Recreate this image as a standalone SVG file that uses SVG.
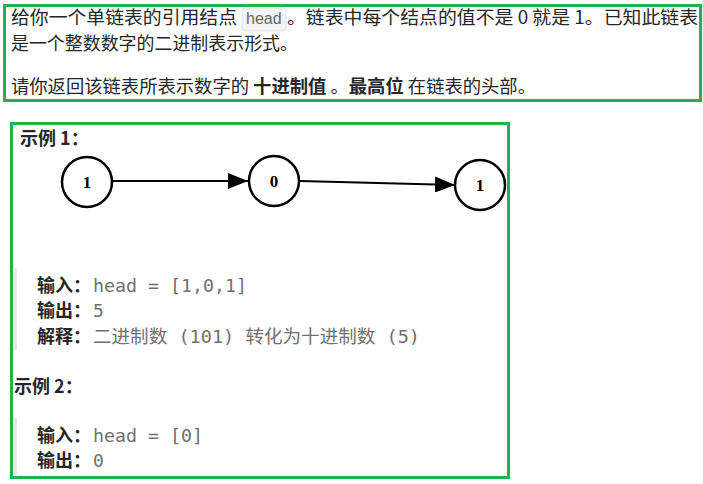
<svg xmlns="http://www.w3.org/2000/svg" width="703" height="484" viewBox="0 0 703 484">
<style>
.t{font-family:"Noto Sans CJK SC","Liberation Sans",sans-serif;font-size:18px;fill:#262626}
.b{font-weight:bold}
.m{font-family:"DejaVu Sans Mono","Noto Sans CJK SC",monospace;font-size:18px;fill:#707070}
.box{fill:none;stroke:#22b14c;stroke-width:3}
.n{fill:#fff;stroke:#000;stroke-width:2.5}
.nt{font-family:"Liberation Serif",serif;font-size:17px;font-weight:bold;text-anchor:middle}
</style>
<defs>
<marker id="a2" viewBox="0 0 20 16" markerWidth="20" markerHeight="16" refX="20" refY="8" orient="auto" markerUnits="userSpaceOnUse"><path d="M0,0L20,8L0,16z"/></marker></defs>
<rect class="box" x="4.5" y="5.5" width="696" height="95"/>
<text class="t" x="11" y="24" textLength="226" lengthAdjust="spacingAndGlyphs">给你一个单链表的引用结点</text>
<rect x="242" y="8" width="44" height="23" rx="3" fill="#f3f3f3" stroke="#e3e3e3"/>
<text x="246" y="24" style="font-family:'Liberation Sans',sans-serif;font-size:16px;fill:#666">head</text>
<text class="t" x="287" y="24" textLength="411" lengthAdjust="spacingAndGlyphs">。链表中每个结点的值不是 0 就是 1。已知此链表</text>
<text class="t" x="11" y="50" textLength="287" lengthAdjust="spacingAndGlyphs">是一个整数数字的二进制表示形式。</text>
<text class="t" x="11" y="93" textLength="525" lengthAdjust="spacingAndGlyphs">请你返回该链表所表示数字的 <tspan class="b">十进制值</tspan> 。<tspan class="b">最高位</tspan> 在链表的头部。</text>
<rect class="box" x="11.5" y="123.5" width="497" height="354"/>
<text class="t b" x="20" y="145">示例 1：</text>
<g id="connectors">
<line x1="113" y1="181" x2="248" y2="181" stroke="#000" stroke-width="2" marker-end="url(#a2)"/>
<line x1="300" y1="181" x2="455" y2="185" stroke="#000" stroke-width="2" marker-end="url(#a2)"/>
</g>
<g id="n1"><circle class="n" cx="87" cy="182" r="25"/><text class="nt" x="87" y="188">1</text></g>
<g id="n2"><circle class="n" cx="274" cy="181" r="25"/><text class="nt" x="274" y="187">0</text></g>
<g id="n3"><circle class="n" cx="480" cy="185" r="25"/><text class="nt" x="480" y="191">1</text></g>
<rect x="14" y="268" width="3" height="82" fill="#e8e8e8"/>
<text class="t b" x="37" y="292">输入：</text><text class="m" x="93" y="292" textLength="154" lengthAdjust="spacingAndGlyphs">head = [1,0,1]</text>
<text class="t b" x="37" y="317">输出：</text><text class="m" x="93" y="317">5</text>
<text class="t b" x="37" y="343">解释：</text><text class="m" x="93" y="343" textLength="327" lengthAdjust="spacingAndGlyphs">二进制数 (101) 转化为十进制数 (5)</text>
<text class="t b" x="14" y="393">示例 2：</text>
<rect x="14" y="418" width="3" height="57" fill="#e8e8e8"/>
<text class="t b" x="37" y="442">输入：</text><text class="m" x="93" y="442" textLength="110" lengthAdjust="spacingAndGlyphs">head = [0]</text>
<text class="t b" x="37" y="467">输出：</text><text class="m" x="93" y="467">0</text>
</svg>
